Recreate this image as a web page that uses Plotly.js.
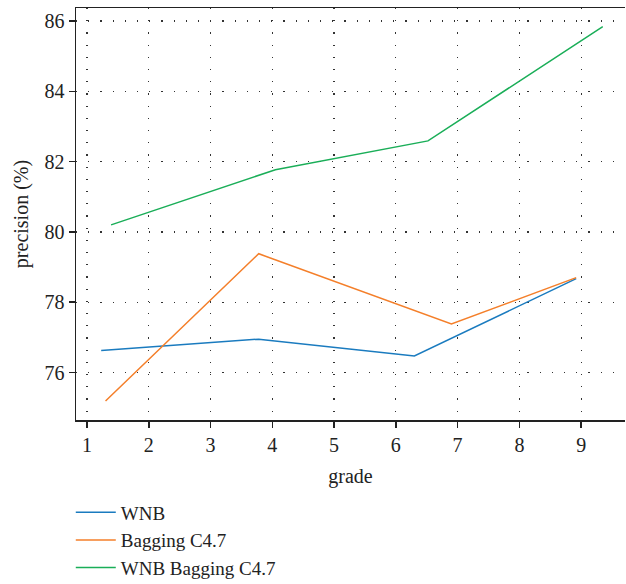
<!DOCTYPE html>
<html>
<head>
<meta charset="utf-8">
<script src="https://cdn.plot.ly/plotly-3.0.1.min.js"></script>
<style>html,body{margin:0;padding:0;background:#fff;}#chart{width:626px;height:584px;}</style>
</head>
<body>
<div id="chart"></div>
<script>
const seriesNames = ["WNB", "Bagging C4.7", "WNB Bagging C4.7"];
const wnbX = [1.23, 3.78, 6.30, 8.92];
const wnbY = [76.63, 76.95, 76.47, 78.67];
const baggingX = [1.30, 3.78, 6.90, 8.92];
const baggingY = [75.19, 79.38, 77.38, 78.70];
const wnbBaggingX = [1.39, 4.05, 6.52, 9.35];
const wnbBaggingY = [80.20, 81.77, 82.59, 85.84];
const xTicks = [1, 2, 3, 4, 5, 6, 7, 8, 9];
const yTicks = [76, 78, 80, 82, 84, 86];
const colors = ["#1a7bbf", "#f47f2a", "#1aae58"];

const font = {family: "Liberation Serif, Times New Roman, serif", size: 20, color: "#222"};
const legendFont = {family: "Liberation Serif, Times New Roman, serif", size: 19, color: "#222"};
const xs = [wnbX, baggingX, wnbBaggingX];
const ys = [wnbY, baggingY, wnbBaggingY];
const traces = seriesNames.map((n, i) => ({
  x: xs[i], y: ys[i], name: n, type: "scatter", mode: "lines",
  line: {color: colors[i], width: 1.5}
}));

const layout = {
  width: 626, height: 584,
  margin: {l: 76, r: 1, t: 8, b: 164, autoexpand: false},
  paper_bgcolor: "#fff", plot_bgcolor: "#fff",
  font: font,
  showlegend: true,
  legend: {x: -0.0095, xanchor: "left", y: -0.178, yanchor: "top", font: legendFont,
           tracegroupgap: 0, itemwidth: 40, bgcolor: "rgba(0,0,0,0)"},
  xaxis: {
    range: [0.822, 9.71], tickvals: xTicks, ticktext: xTicks.map(String),
    showline: true, linecolor: "#222", linewidth: 1.5, mirror: true,
    ticks: "outside", ticklen: 6, tickcolor: "#222", tickwidth: 1.5,
    showgrid: true, gridcolor: "#333", gridwidth: 1.2, griddash: "1.2px,11px",
    zeroline: false, tickfont: font,
    title: {text: "grade", font: font, standoff: 14}
  },
  yaxis: {
    range: [74.65, 86.37], tickvals: yTicks, ticktext: yTicks.map(String),
    showline: true, linecolor: "#222", linewidth: 1.5, mirror: false,
    ticks: "outside", ticklen: 6, tickcolor: "#222", tickwidth: 1.5,
    showgrid: true, gridcolor: "#333", gridwidth: 1.2, griddash: "1.2px,11px",
    zeroline: false, tickfont: font,
    title: {text: "precision (%)", font: font, standoff: 10}
  }
};
Plotly.newPlot("chart", traces, layout, {displayModeBar: false, staticPlot: true});
</script>
</body>
</html>
